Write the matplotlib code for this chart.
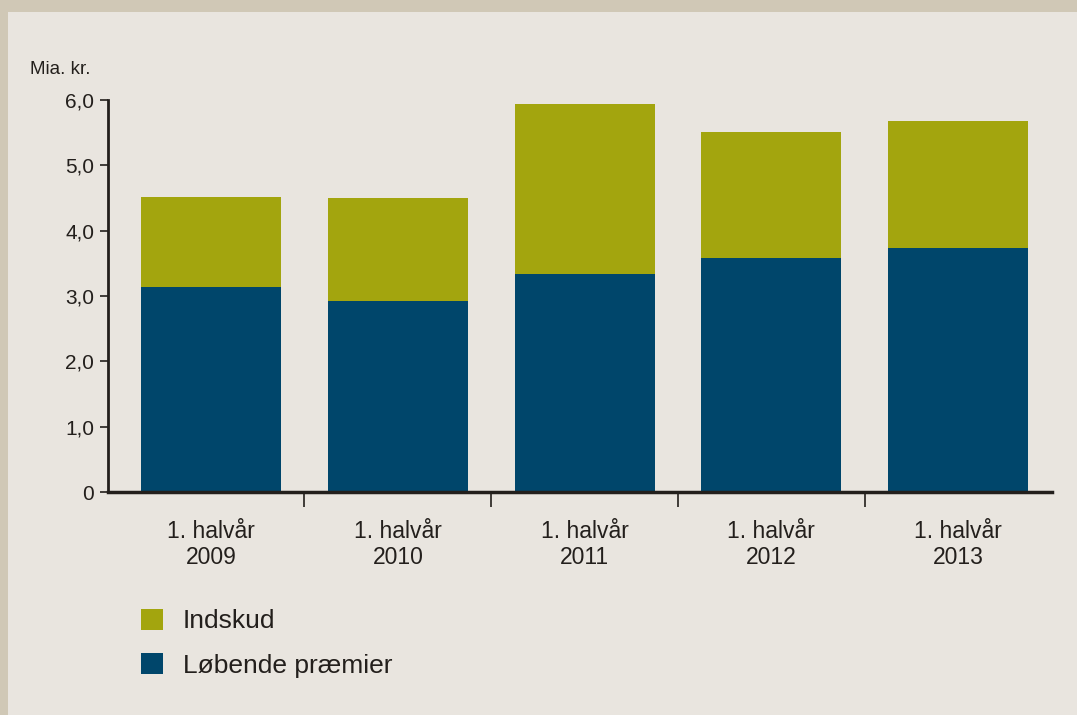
import numpy as np
import matplotlib.pyplot as plt
from matplotlib.patches import Rectangle

# data (mia. kr.)
periods = ["1. halvår\n2009", "1. halvår\n2010", "1. halvår\n2011",
           "1. halvår\n2012", "1. halvår\n2013"]
loebende = [3.14, 2.92, 3.34, 3.58, 3.73]
indskud = [1.38, 1.58, 2.60, 1.93, 1.95]
yticks = [0, 1, 2, 3, 4, 5, 6]
ytick_labels = ["0", "1,0", "2,0", "3,0", "4,0", "5,0", "6,0"]

navy = "#00466B"
olive = "#A3A50E"
ink = "#231F1C"
panel = "#E9E5DF"
frame = "#D0C8B6"

plt.rcParams['font.family'] = ['Liberation Sans', 'DejaVu Sans']

fig = plt.figure(figsize=(10.77, 7.15), dpi=100)
fig.patch.set_facecolor(frame)
# light panel inside the darker frame
fig.patches.append(Rectangle((8 / 1077, 0), 1, 1 - 12 / 715,
                             transform=fig.transFigure, facecolor=panel,
                             edgecolor="none", zorder=-5))

ax = fig.add_axes([108 / 1077, 1 - 492 / 715, 944 / 1077, 392 / 715])
ax.set_facecolor("none")
ax.set_zorder(2)

x = np.arange(len(periods))
ax.bar(x, loebende, width=0.75, color=navy, label="Løbende præmier", zorder=2)
ax.bar(x, indskud, width=0.75, bottom=loebende, color=olive, label="Indskud", zorder=2)

ax.set_xlim(-0.552, 4.503)
ax.set_ylim(0, 6)

for s in ["top", "right"]:
    ax.spines[s].set_visible(False)
ax.spines["left"].set_linewidth(2)
ax.spines["bottom"].set_linewidth(2.5)
ax.spines["left"].set_color(ink)
ax.spines["bottom"].set_color(ink)

ax.set_yticks(yticks)
ax.set_yticklabels(ytick_labels, fontsize=15, color=ink)
ax.tick_params(axis="y", length=6, width=1.2, color=ink, pad=4)

ax.set_xticks(x)
ax.set_xticklabels(periods, fontsize=16.5, color=ink, linespacing=1.2)
ax.set_xticks(np.arange(0.5, len(periods) - 1, 1), minor=True)
ax.tick_params(axis="x", which="major", length=0, pad=20)
ax.tick_params(axis="x", which="minor", length=11, width=1.2, color=ink)

fig.text(30 / 1077, 1 - 69 / 715, "Mia. kr.", fontsize=13.5, color=ink,
         va="center", ha="left")

h, l = ax.get_legend_handles_labels()
fig.legend(h[::-1], l[::-1], loc="upper left",
           bbox_to_anchor=(117 / 1077, 1 - 585 / 715), frameon=False,
           fontsize=19, handlelength=0.85, handleheight=0.85,
           handletextpad=0.75, labelspacing=0.75, labelcolor=ink)

fig.savefig("out.png", dpi=100, facecolor=fig.get_facecolor())
